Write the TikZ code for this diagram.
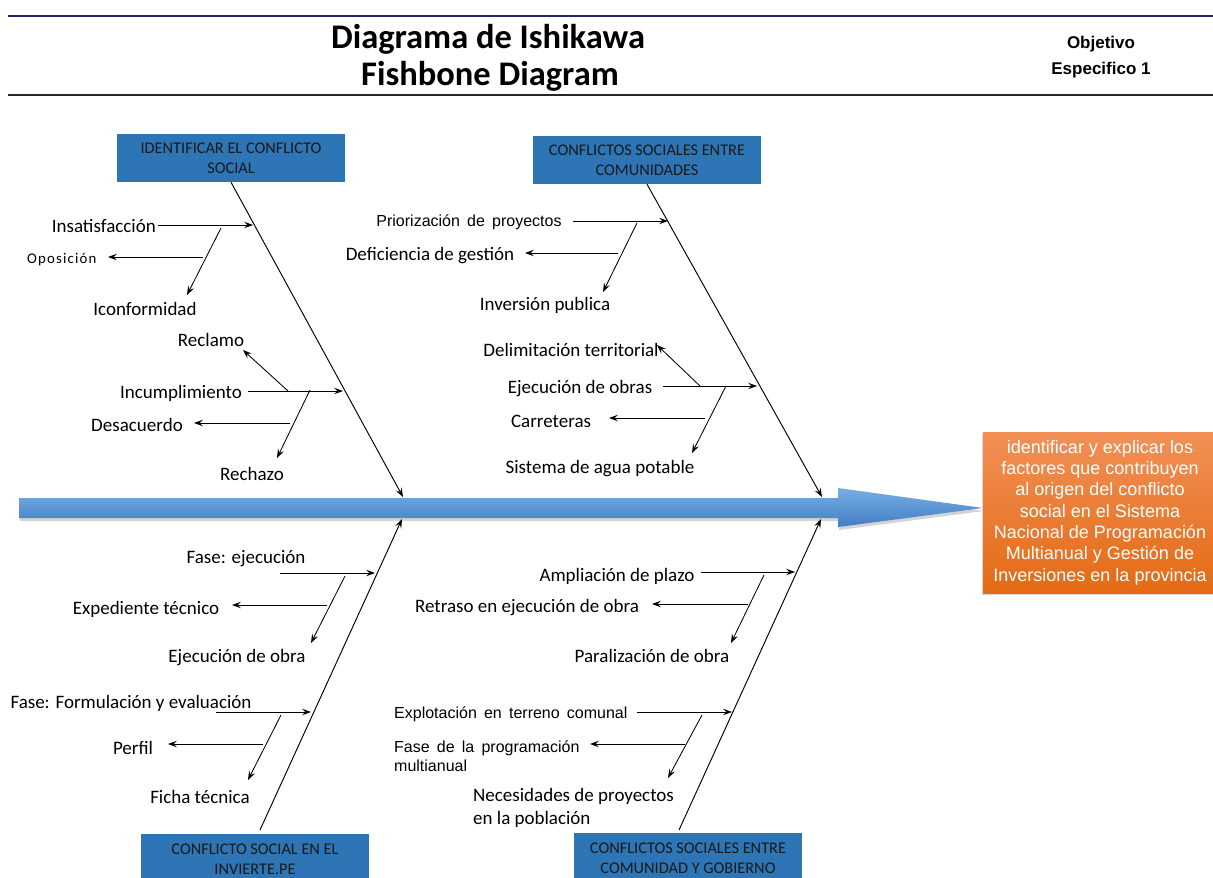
\documentclass[tikz,border=0pt]{standalone}
\usepackage{fontspec}
\setmainfont{Carlito}
\newfontfamily\arialf{Liberation Sans}
\usetikzlibrary{arrows.meta,shadows,calc}
\newcommand\widesp{\spaceskip=0.45em\relax}
\definecolor{boxblue}{RGB}{46,117,182}
\definecolor{spinetop}{RGB}{120,174,228}
\definecolor{spinebot}{RGB}{66,126,196}
\definecolor{orangetop}{RGB}{242,144,86}
\definecolor{orangebot}{RGB}{228,106,20}
\definecolor{navyline}{RGB}{30,38,110}
\tikzset{
  bonearrow/.style={draw=black, line width=0.95pt, -{Stealth[length=9pt,width=6.5pt,inset=3.5pt]}},
  subarrow/.style={draw=black, line width=0.85pt, -{Stealth[length=9pt,width=6.5pt,inset=3.5pt]}},
  lbl/.style={inner sep=0pt, font=\fontsize{19}{22}\selectfont},
  albl/.style={inner sep=0pt, font=\arialf\fontsize{16}{18.5}\selectfont},
  catbox/.style={fill=boxblue, draw=none, minimum width=228pt, minimum height=48pt, align=center,
    font=\fontsize{16.3}{20}\selectfont, text=black!90, inner sep=0pt},
}
\begin{document}
\begin{tikzpicture}[x=1pt,y=-1pt]
\useasboundingbox (0,0) rectangle (1213,878);
\clip (0,0) rectangle (1213,878);

% header
\draw[navyline, line width=2.2pt] (8,16) -- (1213,16);
\draw[black!85, line width=1.8pt] (8,95) -- (1213,95);
\node[anchor=base, inner sep=0pt, font=\bfseries\fontsize{34.5}{38}\selectfont] (title1) at (488,48) {Diagrama de Ishikawa};
\node[anchor=base, inner sep=0pt, font=\bfseries\fontsize{34.5}{38}\selectfont] (title2) at (490,85) {Fishbone Diagram};
\node[anchor=base, inner sep=0pt, font=\arialf\bfseries\fontsize{17}{20}\selectfont] (obj1) at (1101,48) {Objetivo};
\node[anchor=base, inner sep=0pt, font=\arialf\bfseries\fontsize{17}{20}\selectfont] (obj2) at (1101,74) {Especifico 1};

% spine
\path[top color=spinetop, bottom color=spinebot, drop shadow={shadow xshift=1pt, shadow yshift=-3pt, opacity=0.35}]
  (19,498) -- (838,498) -- (838,488) -- (983,508) -- (838,527) -- (838,518) -- (19,518) -- cycle;

% goal box
\node[top color=orangetop, bottom color=orangebot, minimum width=234pt, minimum height=161pt, inner sep=0pt,
  align=center, text=white, font=\arialf\fontsize{18}{21.3}\selectfont,
  drop shadow={shadow xshift=-1pt, shadow yshift=-2pt, opacity=0.3}] (goal) at (1100,512.5)
  {identificar y explicar los\\factores que contribuyen\\al origen del conflicto\\social en el Sistema\\Nacional de Programación\\Multianual  y Gestión de\\Inversiones en la provincia};

% category boxes
\node[catbox] (tlbox) at (231,158) {IDENTIFICAR EL CONFLICTO\\SOCIAL};
\node[catbox] (trbox) at (647,160) {CONFLICTOS SOCIALES  ENTRE\\COMUNIDADES};
\node[catbox, minimum height=50pt] (blbox) at (255,859) {CONFLICTO  SOCIAL EN EL\\INVIERTE.PE};
\node[catbox, minimum height=50pt] (brbox) at (688,858) {CONFLICTOS SOCIALES  ENTRE\\COMUNIDAD  Y GOBIERNO};

% spine coordinates
\coordinate (tlend) at (403,497);
\coordinate (trend) at (822,497);
\coordinate (blend) at (402,519);
\coordinate (brend) at (821,519);
\coordinate (blstart) at (260,830);
\coordinate (brstart) at (679,830);

% bones
\draw[bonearrow] (tlbox.south) -- (tlend);
\draw[bonearrow] (trbox.south) -- (trend);
\draw[bonearrow] (blstart) -- (blend);
\draw[bonearrow] (brstart) -- (brend);

% ---------- top-left labels
\node[lbl, anchor=east] (insat) at (156,226) {Insatisfacción};
\node[inner sep=0pt, anchor=west, font=\addfontfeature{LetterSpace=8}\fontsize{14.8}{17}\selectfont] (opos) at (27,260) {Oposición};
\node[lbl] (iconf) at (145,309) {Iconformidad};
\node[lbl] (reclamo) at (211,340) {Reclamo};
\node[lbl] (incum) at (181,393) {Incumplimiento};
\node[lbl] (desac) at (137,425) {Desacuerdo};
\node[lbl] (rechazo) at (252,474) {Rechazo};

\coordinate (a1s) at (158,225); \coordinate (a1e) at (253,225);
\coordinate (a2s) at (221,228); \coordinate (a2e) at (187,295);
\coordinate (a3s) at (203,257); \coordinate (a3e) at (108,257);
\coordinate (a4s) at (248,391); \coordinate (a4e) at (343,391);
\coordinate (a5s) at (288,391); \coordinate (a5e) at (243,350);
\coordinate (a6s) at (310,390); \coordinate (a6e) at (277,458);
\coordinate (a7s) at (290,423); \coordinate (a7e) at (194,423);
\foreach \i in {1,...,7} {\draw[subarrow] (a\i s) -- (a\i e);}

% ---------- top-right labels
\node[albl] (prior) at (469,222) {\widesp Priorización de proyectos};
\node[lbl] (defic) at (430,256) {Deficiencia de gestión};
\node[lbl] (invers) at (545,305) {Inversión publica};
\node[lbl] (delim) at (571,350) {Delimitación territorial};
\node[lbl] (ejecobras) at (580,389) {Ejecución de obras};
\node[lbl] (carret) at (551,421) {Carreteras};
\node[lbl] (agua) at (600,469) {Sistema de agua potable};

\coordinate (b1s) at (573,221); \coordinate (b1e) at (668,221);
\coordinate (b2s) at (637,223); \coordinate (b2e) at (603,292);
\coordinate (b3s) at (618,253); \coordinate (b3e) at (525,253);
\coordinate (b4s) at (663,386); \coordinate (b4e) at (757,386);
\coordinate (b5s) at (700,386); \coordinate (b5e) at (657,345);
\coordinate (b6s) at (726,386); \coordinate (b6e) at (692,453);
\coordinate (b7s) at (705,418); \coordinate (b7e) at (609,418);
\foreach \i in {1,...,7} {\draw[subarrow] (b\i s) -- (b\i e);}

% ---------- bottom-left labels
\node[lbl] (faseej) at (246,559) {Fase: ejecución};
\node[lbl] (exped) at (146,609) {Expediente técnico};
\node[lbl] (ejecobra) at (237,658) {Ejecución de obra};
\node[lbl] (faseform) at (131,703) {Fase: Formulación y evaluación};
\node[lbl] (perfil) at (133,748) {Perfil};
\node[lbl] (ficha) at (200,797) {Ficha técnica};

\coordinate (c1s) at (280,573); \coordinate (c1e) at (375,573);
\coordinate (c2s) at (345,576); \coordinate (c2e) at (311,643);
\coordinate (c3s) at (327,605); \coordinate (c3e) at (232,605);
\coordinate (c4s) at (216,712); \coordinate (c4e) at (311,712);
\coordinate (c5s) at (281,715); \coordinate (c5e) at (248,780);
\coordinate (c6s) at (263,744); \coordinate (c6e) at (168,744);
\foreach \i in {1,...,6} {\draw[subarrow] (c\i s) -- (c\i e);}

% ---------- bottom-right labels
\node[lbl] (ampl) at (617,576) {Ampliación de plazo};
\node[lbl] (retraso) at (527,608) {Retraso en ejecución de obra};
\node[lbl] (paral) at (652,656) {Paralización de obra};
\node[albl, anchor=west] (explot) at (394,714) {\widesp Explotación en terreno comunal};
\node[albl, anchor=west, align=left] (faseprog) at (394,756) {\widesp Fase de la programación\\multianual};
\node[lbl, anchor=west, align=left, font=\fontsize{19}{23}\selectfont] (neces) at (473,808) {Necesidades de proyectos\\en la población};

\coordinate (d1s) at (701,572); \coordinate (d1e) at (795,572);
\coordinate (d2s) at (764,575); \coordinate (d2e) at (731,643);
\coordinate (d3s) at (748,604); \coordinate (d3e) at (652,604);
\coordinate (d4s) at (637,712); \coordinate (d4e) at (732,712);
\coordinate (d5s) at (702,715); \coordinate (d5e) at (668,778);
\coordinate (d6s) at (685,744); \coordinate (d6e) at (590,744);
\foreach \i in {1,...,6} {\draw[subarrow] (d\i s) -- (d\i e);}
\end{tikzpicture}
\end{document}
